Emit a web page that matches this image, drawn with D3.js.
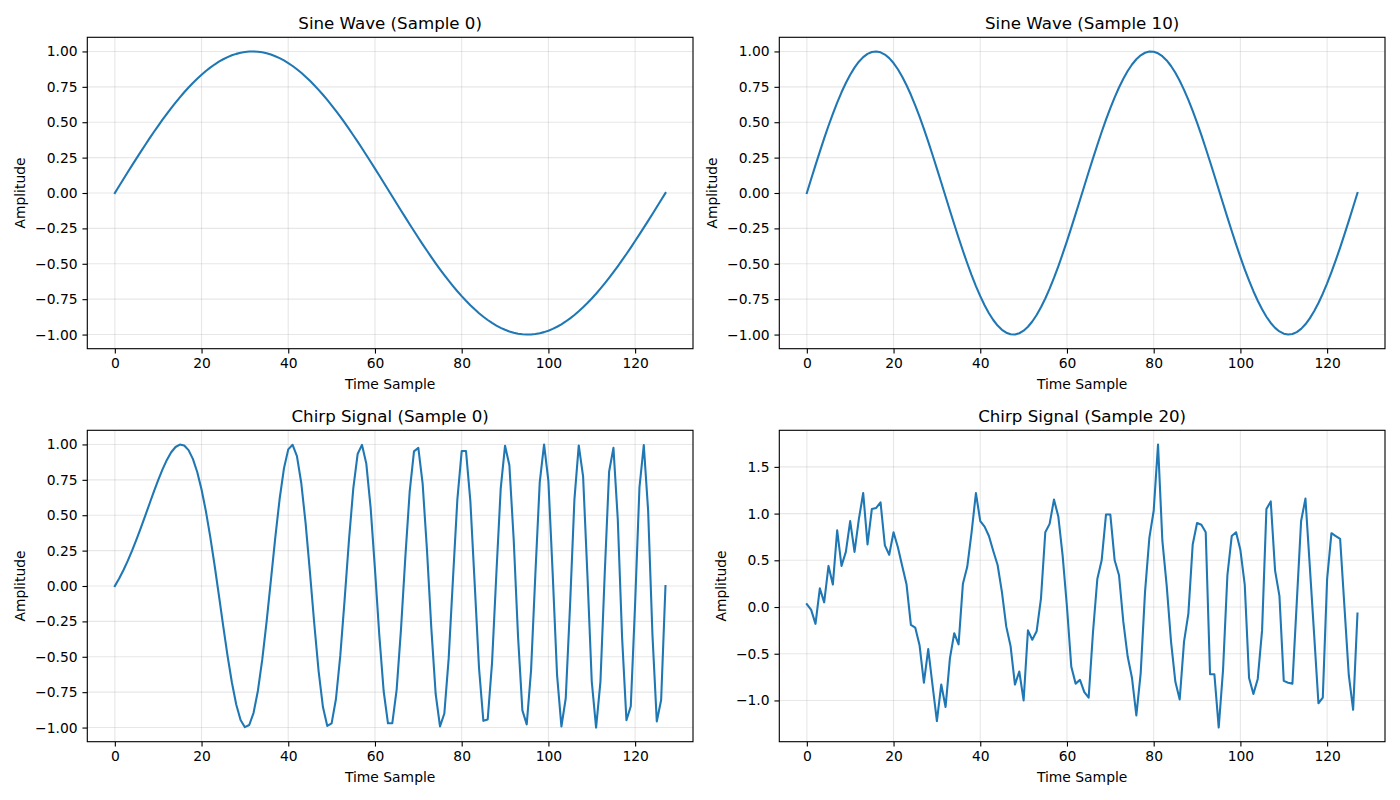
<!DOCTYPE html>
<html><head><meta charset="utf-8">
<script src="https://cdn.jsdelivr.net/npm/d3@7"></script>
<style>body{margin:0;background:#fff}svg{display:block}text{font-family:"DejaVu Sans",sans-serif;fill:#000}</style>
</head><body><svg id="c" width="1400" height="800"></svg>
<script>
const timeTicks = [0, 20, 40, 60, 80, 100, 120];
const ampTicks2 = [-1, -0.75, -0.5, -0.25, 0, 0.25, 0.5, 0.75, 1];
const ampTicks1 = [-1, -0.5, 0, 0.5, 1, 1.5];
const titles = ["Sine Wave (Sample 0)", "Sine Wave (Sample 10)", "Chirp Signal (Sample 0)", "Chirp Signal (Sample 20)"];

const sineWave0 = [0,0.0495,0.0988,0.1479,0.1966,0.2449,0.2925,0.3394,0.3855,0.4307,0.4748,0.5177,0.5594,0.5997,0.6386,0.6758,0.7115,0.7453,0.7774,0.8075,0.8357,0.8618,0.8859,0.9077,0.9274,0.9448,0.9598,0.9725,0.9828,0.9908,0.9963,0.9993,0.9999,0.9981,0.9938,0.9871,0.9780,0.9665,0.9526,0.9364,0.9179,0.8971,0.8741,0.8490,0.8218,0.7926,0.7615,0.7286,0.6939,0.6575,0.6196,0.5799,0.5389,0.4965,0.4529,0.4082,0.3626,0.3161,0.2688,0.2208,0.1723,0.1234,0.0741,0.0247,
-0.0247,-0.0741,-0.1234,-0.1723,-0.2208,-0.2688,-0.3161,-0.3626,-0.4082,-0.4529,-0.4965,-0.5389,-0.5799,-0.6196,-0.6575,-0.6939,-0.7286,-0.7615,-0.7926,-0.8218,-0.8490,-0.8741,-0.8971,-0.9179,-0.9364,-0.9526,-0.9665,-0.9780,-0.9871,-0.9938,-0.9981,-0.9999,-0.9993,-0.9963,-0.9908,-0.9828,-0.9725,-0.9598,-0.9448,-0.9274,-0.9077,-0.8859,-0.8618,-0.8357,-0.8075,-0.7774,-0.7453,-0.7115,-0.6758,-0.6386,-0.5997,-0.5594,-0.5177,-0.4748,-0.4307,-0.3855,-0.3394,-0.2925,-0.2449,-0.1966,-0.1479,-0.0988,-0.0495,0];

const sineWave10 = [0,0.0988,0.1966,0.2925,0.3855,0.4748,0.5594,0.6386,0.7115,0.7774,0.8357,0.8859,0.9274,0.9598,0.9828,0.9963,0.9999,0.9938,0.9780,0.9526,0.9179,0.8741,0.8218,0.7615,0.6939,0.6196,0.5389,0.4529,0.3626,0.2688,0.1723,0.0741,-0.0247,-0.1234,-0.2208,-0.3161,-0.4082,-0.4965,-0.5799,-0.6575,-0.7286,-0.7926,-0.8490,-0.8971,-0.9364,-0.9665,-0.9871,-0.9981,-0.9993,-0.9908,-0.9725,-0.9448,-0.9077,-0.8618,-0.8075,-0.7453,-0.6758,-0.5997,-0.5177,-0.4307,-0.3394,-0.2449,-0.1479,-0.0495,
0.0495,0.1479,0.2449,0.3394,0.4307,0.5177,0.5997,0.6758,0.7453,0.8075,0.8618,0.9077,0.9448,0.9725,0.9908,0.9993,0.9981,0.9871,0.9665,0.9364,0.8971,0.8490,0.7926,0.7286,0.6575,0.5799,0.4965,0.4082,0.3161,0.2208,0.1234,0.0247,-0.0741,-0.1723,-0.2688,-0.3626,-0.4529,-0.5389,-0.6196,-0.6939,-0.7615,-0.8218,-0.8741,-0.9179,-0.9526,-0.9780,-0.9938,-0.9999,-0.9963,-0.9828,-0.9598,-0.9274,-0.8859,-0.8357,-0.7774,-0.7115,-0.6386,-0.5594,-0.4748,-0.3855,-0.2925,-0.1966,-0.0988,0];

const chirp0 = [0,0.0530,0.1127,0.1790,0.2513,0.3288,0.4105,0.4952,0.5812,0.6663,
0.7481,0.8238,0.8906,0.9446,0.9818,0.9992,0.9929,0.9600,0.8979,0.8053,
0.6819,0.5292,0.3490,0.1484,-0.0652,-0.2828,-0.4930,-0.6816,-0.8370,-0.9462,
-0.9972,-0.9820,-0.8956,-0.7398,-0.5208,-0.2540,0.0417,0.3401,0.6127,0.8298,
0.9650,0.9977,0.9177,0.7277,0.4440,0.0986,-0.2668,-0.6010,-0.8555,-0.9883,
-0.9708,-0.7984,-0.4920,-0.0957,0.3229,0.6892,0.9323,0.9973,0.8645,0.5520,
0.1176,-0.3482,-0.7418,-0.9698,-0.9693,-0.7320,-0.3068,0.2023,0.6644,0.9510,
0.9754,0.7206,0.2510,-0.2993,-0.7630,-0.9916,-0.9009,-0.5115,0.0568,0.6106,
0.9532,0.9533,0.5994,0.0150,-0.5811,-0.9525,-0.9432,-0.5433,0.0883,0.6877,
0.9909,0.8531,0.3250,-0.3587,-0.8786,-0.9773,-0.5959,0.0879,0.7319,0.9999,
0.7402,0.0789,-0.6300,-0.9927,-0.7930,-0.1333,0.6096,0.9929,0.7749,0.0762,
-0.6748,-0.9999,-0.6779,0.0933,0.8068,0.9759,0.4713,-0.3663,-0.9487,-0.8490,
-0.1249,0.6957,0.9950,0.5336,-0.3456,-0.9567,-0.8053,0];

const chirp20 = [0.03,-0.03,-0.18,0.20,0.05,0.44,0.24,0.82,0.44,0.59,
0.92,0.59,0.94,1.22,0.67,1.05,1.06,1.12,0.66,0.56,
0.80,0.64,0.44,0.24,-0.19,-0.22,-0.41,-0.81,-0.45,-0.84,
-1.22,-0.83,-1.07,-0.55,-0.28,-0.40,0.25,0.43,0.80,1.22,
0.92,0.86,0.76,0.60,0.45,0.16,-0.21,-0.42,-0.83,-0.69,
-1.00,-0.25,-0.35,-0.26,0.09,0.80,0.89,1.15,0.97,0.55,
0.00,-0.64,-0.82,-0.78,-0.91,-0.97,-0.27,0.30,0.50,0.99,
0.99,0.50,0.34,-0.16,-0.53,-0.76,-1.16,-0.71,0.16,0.74,
1.03,1.74,0.71,0.23,-0.37,-0.80,-0.99,-0.37,-0.07,0.67,
0.90,0.88,0.80,-0.72,-0.72,-1.29,-0.67,0.34,0.76,0.80,
0.61,0.24,-0.76,-0.93,-0.77,-0.25,1.05,1.13,0.39,0.12,
-0.79,-0.81,-0.82,0.05,0.92,1.16,0.44,-0.29,-1.03,-0.97,
0.30,0.79,0.76,0.73,0.00,-0.73,-1.10,-0.07];

const svg = d3.select("#c");
const W = 605.7, H = 311.4;
const panels = [
  {x: 87.3, y: 37.3, data: sineWave0, title: titles[0], ticks: ampTicks2, fmt: ".2f"},
  {x: 779.3, y: 37.3, data: sineWave10, title: titles[1], ticks: ampTicks2, fmt: ".2f"},
  {x: 87.3, y: 430.3, data: chirp0, title: titles[2], ticks: ampTicks2, fmt: ".2f"},
  {x: 779.3, y: 430.3, data: chirp20, title: titles[3], ticks: ampTicks1, fmt: ".1f"}
];
const fmtMinus = f => v => d3.format(f)(v).replace("-", "\u2212");
const TS = 4.86, FS = 13.89;

panels.forEach(p => {
  const g = svg.append("g").attr("transform", `translate(${p.x},${p.y})`);
  const n = p.data.length - 1;
  const x = d3.scaleLinear().domain([-0.05 * n, n * 1.05]).range([0, W]);
  const ext = d3.extent(p.data);
  const pad = (ext[1] - ext[0]) * 0.05;
  const y = d3.scaleLinear().domain([ext[0] - pad, ext[1] + pad]).range([H, 0]);

  g.append("g").selectAll("line").data(timeTicks).join("line")
    .attr("x1", d => x(d)).attr("x2", d => x(d)).attr("y1", 0).attr("y2", H)
    .attr("stroke", "#b0b0b0").attr("stroke-opacity", 0.3).attr("stroke-width", 1.11);
  g.append("g").selectAll("line").data(p.ticks).join("line")
    .attr("y1", d => y(d)).attr("y2", d => y(d)).attr("x1", 0).attr("x2", W)
    .attr("stroke", "#b0b0b0").attr("stroke-opacity", 0.3).attr("stroke-width", 1.11);

  const line = d3.line().x((d, i) => x(i)).y(d => y(d));
  g.append("path").datum(p.data).attr("d", line).attr("fill", "none")
    .attr("stroke", "#1f77b4").attr("stroke-width", 2.08).attr("stroke-linejoin", "round").attr("stroke-linecap", "square");

  const xa = g.append("g").attr("transform", `translate(0,${H})`)
    .call(d3.axisBottom(x).tickValues(timeTicks).tickSize(TS).tickPadding(TS).tickFormat(d3.format("d")));
  const ya = g.append("g")
    .call(d3.axisLeft(y).tickValues(p.ticks).tickSize(TS).tickPadding(TS).tickFormat(fmtMinus(p.fmt)));
  [xa, ya].forEach(a => {
    a.select(".domain").remove();
    a.selectAll("line").attr("stroke", "#000").attr("stroke-width", 1.11);
    a.selectAll("text").attr("font-size", FS).attr("font-family", "DejaVu Sans").attr("fill", "#000");
  });
  g.append("rect").attr("width", W).attr("height", H).attr("fill", "none").attr("stroke", "#000").attr("stroke-width", 1.11);

  g.append("text").attr("x", W / 2).attr("y", -8.3).attr("text-anchor", "middle").attr("font-size", 16.67).text(p.title);
  g.append("text").attr("x", W / 2).attr("y", H + 40).attr("text-anchor", "middle").attr("font-size", FS).text("Time Sample");
  const labX = p.fmt === ".1f" ? -53 : -62;
  g.append("text").attr("transform", `translate(${labX},${H / 2}) rotate(-90)`).attr("text-anchor", "middle").attr("font-size", FS).text("Amplitude");
});
</script></body></html>
